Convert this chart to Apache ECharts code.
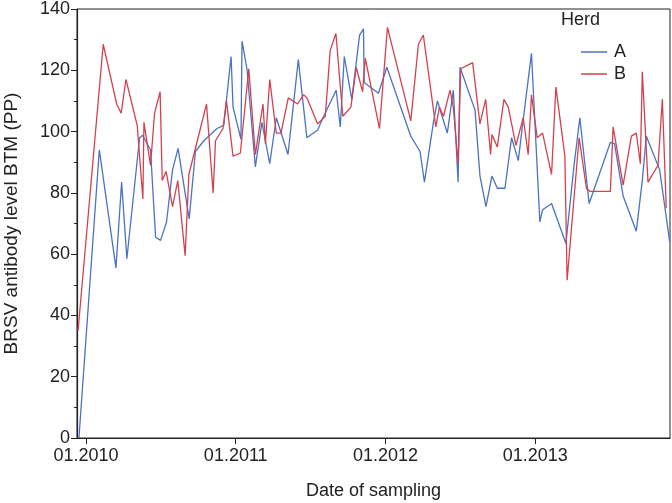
<!DOCTYPE html>
<html>
<head>
<meta charset="utf-8">
<script src="https://cdn.jsdelivr.net/npm/echarts@6/dist/echarts.min.js"></script>
<style>
  html, body { margin: 0; padding: 0; background: #fff; }
  #chart { width: 672px; height: 503px; }
</style>
</head>
<body>
<div id="chart"></div>
<script>
// sampling dates as decimal years, antibody levels (PP)
const datesA = [2009.953, 2010.089, 2010.200, 2010.238, 2010.273, 2010.358, 2010.378, 2010.431, 2010.465, 2010.498,
  2010.538, 2010.578, 2010.615, 2010.689, 2010.731, 2010.787, 2010.875, 2010.920, 2010.969, 2010.982,
  2011.035, 2011.042, 2011.075, 2011.131, 2011.175, 2011.227, 2011.271, 2011.349, 2011.418, 2011.475,
  2011.547, 2011.587, 2011.671, 2011.698, 2011.725, 2011.775, 2011.827, 2011.853, 2011.858, 2011.953,
  2012.009, 2012.169, 2012.231, 2012.260, 2012.320, 2012.347, 2012.375, 2012.413, 2012.453, 2012.485,
  2012.498, 2012.598, 2012.631, 2012.671, 2012.711, 2012.747, 2012.798, 2012.842, 2012.887, 2012.920,
  2012.975, 2013.031, 2013.049, 2013.109, 2013.205, 2013.258, 2013.298, 2013.360, 2013.502, 2013.530,
  2013.587, 2013.675, 2013.715, 2013.742, 2013.831, 2013.898];
const valuesA = [0, 94, 55.5, 83.5, 58.5, 98, 98.8, 94, 65.5, 64.5,
  70.5, 87.5, 94.5, 71.5, 93.5, 97, 101, 102, 124.5, 108,
  97.5, 129.5, 120.5, 88.5, 103, 89.5, 104.5, 92.5, 123.5, 98,
  100.5, 105, 113.5, 101.5, 124.5, 110.5, 131.5, 133.5, 116, 112.5,
  121, 98.5, 93.5, 83.5, 103, 110, 105.5, 99.5, 113.5, 83.5,
  121, 107, 85.5, 75.5, 85.5, 81.5, 81.5, 98, 90.5, 104,
  125.5, 70.5, 74.5, 76.5, 63.5, 88.5, 104.5, 76.5, 96.5, 96,
  79, 67.5, 84, 98.5, 87.5, 64];

const datesB = [2009.947, 2010.115, 2010.205, 2010.235, 2010.267, 2010.342, 2010.380, 2010.387, 2010.431, 2010.458,
  2010.495, 2010.509, 2010.535, 2010.578, 2010.613, 2010.662, 2010.687, 2010.805, 2010.849, 2010.865,
  2010.915, 2010.938, 2010.982, 2011.031, 2011.087, 2011.131, 2011.182, 2011.198, 2011.227, 2011.271,
  2011.302, 2011.351, 2011.413, 2011.453, 2011.475, 2011.547, 2011.598, 2011.631, 2011.669, 2011.715,
  2011.769, 2011.805, 2011.847, 2011.865, 2011.960, 2012.013, 2012.169, 2012.220, 2012.253, 2012.336,
  2012.360, 2012.387, 2012.431, 2012.453, 2012.485, 2012.502, 2012.582, 2012.631, 2012.669, 2012.702,
  2012.711, 2012.747, 2012.791, 2012.820, 2012.871, 2012.920, 2012.953, 2012.975, 2013.013, 2013.049,
  2013.109, 2013.138, 2013.198, 2013.213, 2013.293, 2013.342, 2013.365, 2013.502, 2013.520, 2013.587,
  2013.642, 2013.675, 2013.702, 2013.715, 2013.753, 2013.820, 2013.849, 2013.875];
const valuesB = [35, 128.5, 109, 106, 117, 102, 78, 103, 89, 106,
  113, 84, 87, 75.5, 84, 59.5, 86, 109, 80, 97,
  101, 110, 92, 93, 120.5, 92.5, 109, 96, 117, 99.5,
  99.5, 111, 109, 112, 111, 102.5, 105, 126.5, 132, 105,
  108, 121, 113, 124, 101, 134, 103.5, 128.5, 131.5, 101.5,
  108, 105, 113.5, 108, 89.5, 120.5, 122.5, 102.5, 110.5, 92.5,
  99, 95, 110.5, 108, 95.5, 104.5, 92.5, 112, 98, 99.5,
  86, 114.5, 92, 51.5, 98, 81.5, 80.5, 80.5, 101.5, 82.5,
  98.5, 99.5, 89.5, 119.5, 83.5, 89, 110.5, 75];

const yearTicks = [2010, 2011, 2012, 2013];
const herdNames = ['A', 'B'];
const colorList = ['#4a73c2', '#d5404f'];

const zip = (xs, ys) => xs.map((x, i) => [x, ys[i]]);

const chart = echarts.init(document.getElementById('chart'), null, { renderer: 'canvas' });
const font = 'Liberation Sans, Arial, sans-serif';
const ink = '#222';
const fs = 18;

const option = {
  backgroundColor: '#fff',
  animation: false,
  textStyle: { fontFamily: font },
  title: {
    text: 'Herd',
    left: 556,
    top: 6,
    textStyle: { fontFamily: font, fontSize: fs, fontWeight: 'normal', color: ink },
  },
  legend: {
    data: herdNames,
    orient: 'vertical',
    left: 576,
    top: 38,
    itemGap: 4,
    itemWidth: 26,
    itemHeight: 1.5,
    icon: 'rect',
    textStyle: { fontFamily: font, fontSize: fs, color: ink, padding: [0, 0, 0, 2] },
  },
  grid: {
    left: 77, right: 2, top: 9, bottom: 65,
    outerBoundsMode: 'none',
    show: true, borderColor: ink, borderWidth: 1,
  },
  xAxis: {
    type: 'value',
    min: 2009.94,
    max: 2013.9,
    name: 'Date of sampling',
    nameLocation: 'middle',
    nameGap: 44,
    nameTextStyle: { fontFamily: font, fontSize: fs, color: ink },
    axisLine: { lineStyle: { color: ink, width: 1.2 } },
    axisTick: { show: true, customValues: yearTicks, length: 6, lineStyle: { color: ink } },
    axisLabel: {
      customValues: yearTicks,
      formatter: v => '01.' + v,
      fontFamily: font, fontSize: fs, color: ink, margin: 9,
    },
    splitLine: { show: false },
  },
  yAxis: {
    type: 'value',
    min: 0,
    max: 140,
    interval: 20,
    name: 'BRSV antibody level BTM (PP)',
    nameLocation: 'middle',
    nameGap: 56,
    nameTextStyle: { fontFamily: font, fontSize: 19, color: ink },
    axisLine: { show: true, lineStyle: { color: ink, width: 1.2 } },
    axisTick: { show: true, length: 6, lineStyle: { color: ink } },
    minorTick: { show: true, splitNumber: 2, length: 3, lineStyle: { color: ink } },
    axisLabel: { fontFamily: font, fontSize: fs, color: ink, margin: 7 },
    splitLine: { show: false },
  },
  series: [
    {
      name: herdNames[0],
      type: 'line',
      data: zip(datesA, valuesA),
      showSymbol: false,
      lineStyle: { color: colorList[0], width: 1.3 },
      itemStyle: { color: colorList[0] },
    },
    {
      name: herdNames[1],
      type: 'line',
      data: zip(datesB, valuesB),
      showSymbol: false,
      lineStyle: { color: colorList[1], width: 1.3 },
      itemStyle: { color: colorList[1] },
    },
  ],
};

chart.setOption(option);
</script>
</body>
</html>
